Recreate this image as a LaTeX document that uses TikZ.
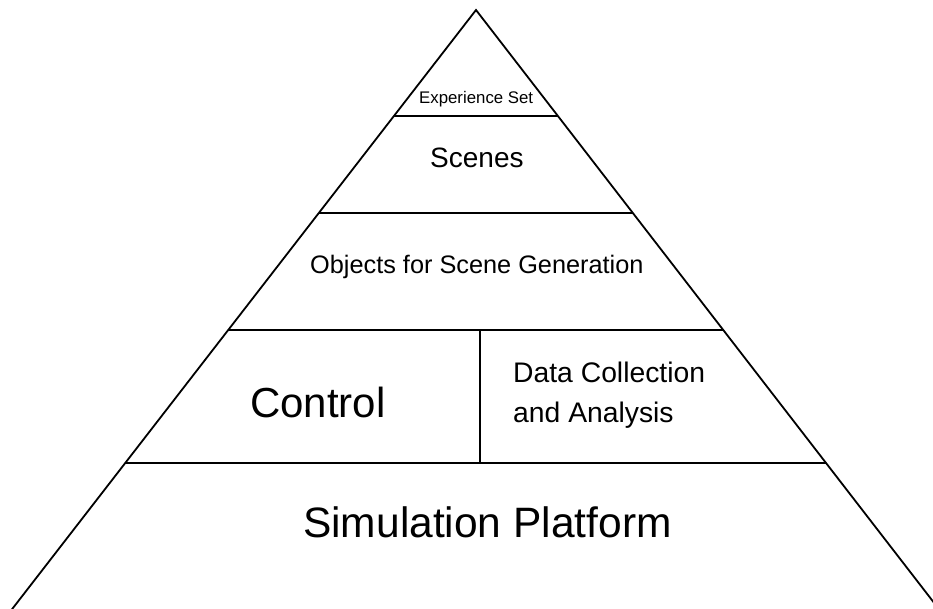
\documentclass[tikz,border=0pt]{standalone}
\usepackage{fontspec}
\setmainfont{Liberation Sans}
\begin{document}
\begin{tikzpicture}[x=1pt,y=-1pt,
  edge/.style={line width=1.8pt,line join=miter,black},
  lbl/.style={inner sep=0pt,anchor=base west,text=black}]
\useasboundingbox (0,0) rectangle (933,609);
\clip (0,0) rectangle (933,609);
\fill[white] (0,0) rectangle (933,609);

% pyramid outline
\coordinate (apex) at (476,10);
\coordinate (baseL) at (6,617);
\coordinate (baseR) at (945,617);
\draw[edge] (baseL) -- (apex) -- (baseR);

% layer dividers
\coordinate (a1) at (394,116);  \coordinate (b1) at (558,116);
\coordinate (a2) at (319,213);  \coordinate (b2) at (633,213);
\coordinate (a3) at (228,330);  \coordinate (b3) at (723,330);
\coordinate (a4) at (125.5,463); \coordinate (b4) at (825.5,463);
\coordinate (v1) at (480,330);  \coordinate (v2) at (480,463);
\draw[edge] (a1) -- (b1);
\draw[edge] (a2) -- (b2);
\draw[edge] (a3) -- (b3);
\draw[edge] (a4) -- (b4);
\draw[edge] (v1) -- (v2);

% layer labels
\node[lbl,font=\fontsize{16.8}{20}\selectfont] (exp) at (419,103.5) {Experience Set};
\node[lbl,font=\fontsize{28}{32}\selectfont] (scn) at (430,168) {Scenes};
\node[lbl,font=\fontsize{25.3}{30}\selectfont] (obj) at (310,273) {Objects for Scene Generation};
\node[lbl,font=\fontsize{42}{48}\selectfont] (ctl) at (250,417) {Control};
\node[lbl,font=\fontsize{28.3}{40}\selectfont] (dc1) at (513,382) {Data Collection};
\node[lbl,font=\fontsize{28.3}{40}\selectfont] (dc2) at (513,422) {and Analysis};
\node[lbl,font=\fontsize{42.5}{48}\selectfont] (sim) at (303,537) {Simulation Platform};
\end{tikzpicture}
\end{document}
